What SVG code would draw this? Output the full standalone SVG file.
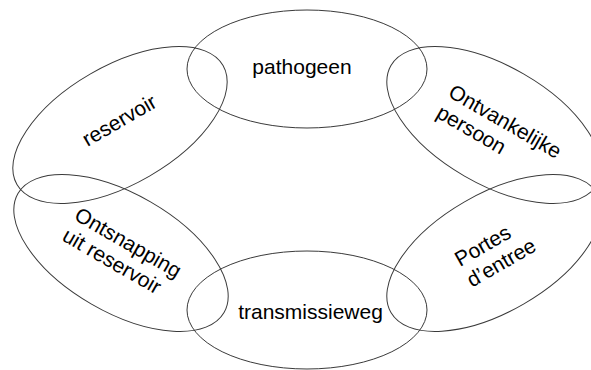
<svg xmlns="http://www.w3.org/2000/svg" width="591" height="370" viewBox="0 0 591 370">
<style>
.e{fill:none;stroke:#3a3a3a;stroke-width:1}
.t{font-family:"Liberation Sans",Arial,sans-serif;font-size:21px;fill:#000}
</style>
<rect width="591" height="370" fill="#fff"/>
<g id="pathogeen"><ellipse class="e" cx="307" cy="69" rx="120" ry="59"/><text class="t" x="302" y="74" text-anchor="middle">pathogeen</text></g>
<g id="reservoir"><ellipse class="e" cx="0" cy="0" rx="119" ry="59" transform="translate(120,125) rotate(-30)"/><text class="t" transform="translate(87.5,147) rotate(-30)">reservoir</text></g>
<g id="ontsnapping"><ellipse class="e" cx="0" cy="0" rx="119" ry="59" transform="translate(121,253) rotate(30)"/><text class="t" transform="translate(73,219) rotate(30)"><tspan x="0" y="0">Ontsnapping</tspan><tspan x="0" y="24">uit reservoir</tspan></text></g>
<g id="transmissieweg"><ellipse class="e" cx="307" cy="310" rx="120" ry="59"/><text class="t" x="310.5" y="319" text-anchor="middle">transmissieweg</text></g>
<g id="portes"><ellipse class="e" cx="0" cy="0" rx="119" ry="59" transform="translate(494,253) rotate(-30)"/><text class="t" transform="translate(460,267) rotate(-30)"><tspan x="0" y="0">Portes</tspan><tspan x="0" y="24">d’entree</tspan></text></g>
<g id="ontvankelijke"><ellipse class="e" cx="0" cy="0" rx="119" ry="59" transform="translate(494,125) rotate(30)"/><text class="t" transform="translate(447,96) rotate(30)"><tspan x="0" y="0">Ontvankelijke</tspan><tspan x="0" y="24">persoon</tspan></text></g>
<g id="connectors"/>
</svg>
